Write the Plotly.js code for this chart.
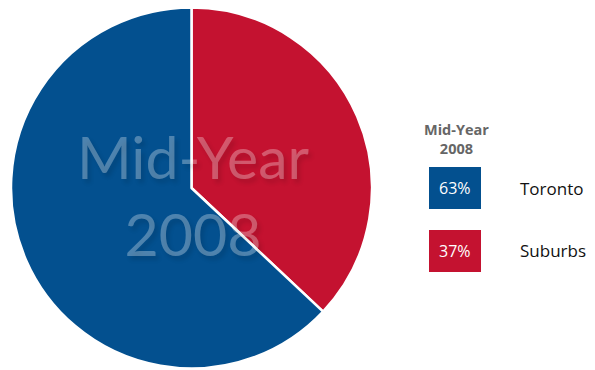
<!DOCTYPE html>
<html><head><meta charset="utf-8">
<script src="https://cdn.plot.ly/plotly-3.0.1.min.js"></script>
<style>html,body{margin:0;padding:0;background:#fff;}#chart{width:595px;height:370px;}</style>
</head><body><div id="chart"></div>
<script>
var categories = ['Suburbs', 'Toronto'];
var values = [37, 63];
var colors = ['#c41230', '#03508f'];
var pctLabels = ['37%', '63%'];
var legendOrder = [1, 0]; // Toronto first, then Suburbs
var legendTitle = 'Mid-Year<br>2008';
var centerText = 'Mid-Year<br>2008';

var W = 595, H = 370;
function px(x){return x / W;}
function py(y){return 1 - y / H;}

var shapes = [], annotations = [];
annotations.push({xref:'paper', yref:'paper', x:px(193), y:py(195), text:centerText, showarrow:false,
  font:{family:'Lato, "Open Sans", sans-serif', size:59, color:'rgba(255,255,255,0.3)', shadow:'3px 4px 4px rgba(0,0,0,0.4)'},
  xanchor:'center', yanchor:'middle'});
annotations.push({xref:'paper', yref:'paper', x:px(456), y:py(139), text:'<b>'+legendTitle+'</b>', showarrow:false,
  font:{family:'"Open Sans", "Noto Sans", sans-serif', size:14.5, color:'#666666'}, xanchor:'center', yanchor:'middle'});

legendOrder.forEach(function(idx, i){
  var top = 167 + i * 63, bot = top + 42;
  shapes.push({type:'rect', xref:'paper', yref:'paper', x0:px(429), x1:px(481), y0:py(bot), y1:py(top),
    fillcolor:colors[idx], line:{width:0}});
  annotations.push({xref:'paper', yref:'paper', x:px(455), y:py((top+bot)/2), text:pctLabels[idx], showarrow:false,
    font:{family:'"Open Sans", "Noto Sans", sans-serif', size:16, color:'#ffffff'}, xanchor:'center', yanchor:'middle'});
  annotations.push({xref:'paper', yref:'paper', x:px(518), y:py((top+bot)/2), text:categories[idx], showarrow:false,
    font:{family:'"Open Sans", "Noto Sans", sans-serif', size:17, color:'#111111'}, xanchor:'left', yanchor:'middle'});
});

var data = [{
  type:'pie', labels:categories, values:values, sort:false, direction:'clockwise', rotation:0,
  marker:{colors:colors, line:{color:'#ffffff', width:2.5}},
  textinfo:'none', hoverinfo:'label+percent', showlegend:false,
  domain:{x:[px(11), px(372)], y:[py(369), py(7)]}
}];
var layout = {width:W, height:H, margin:{l:0,r:0,t:0,b:0}, paper_bgcolor:'#ffffff', plot_bgcolor:'#ffffff',
  showlegend:false, shapes:shapes, annotations:annotations};
Plotly.newPlot('chart', data, layout, {displayModeBar:false, staticPlot:true});
</script></body></html>
